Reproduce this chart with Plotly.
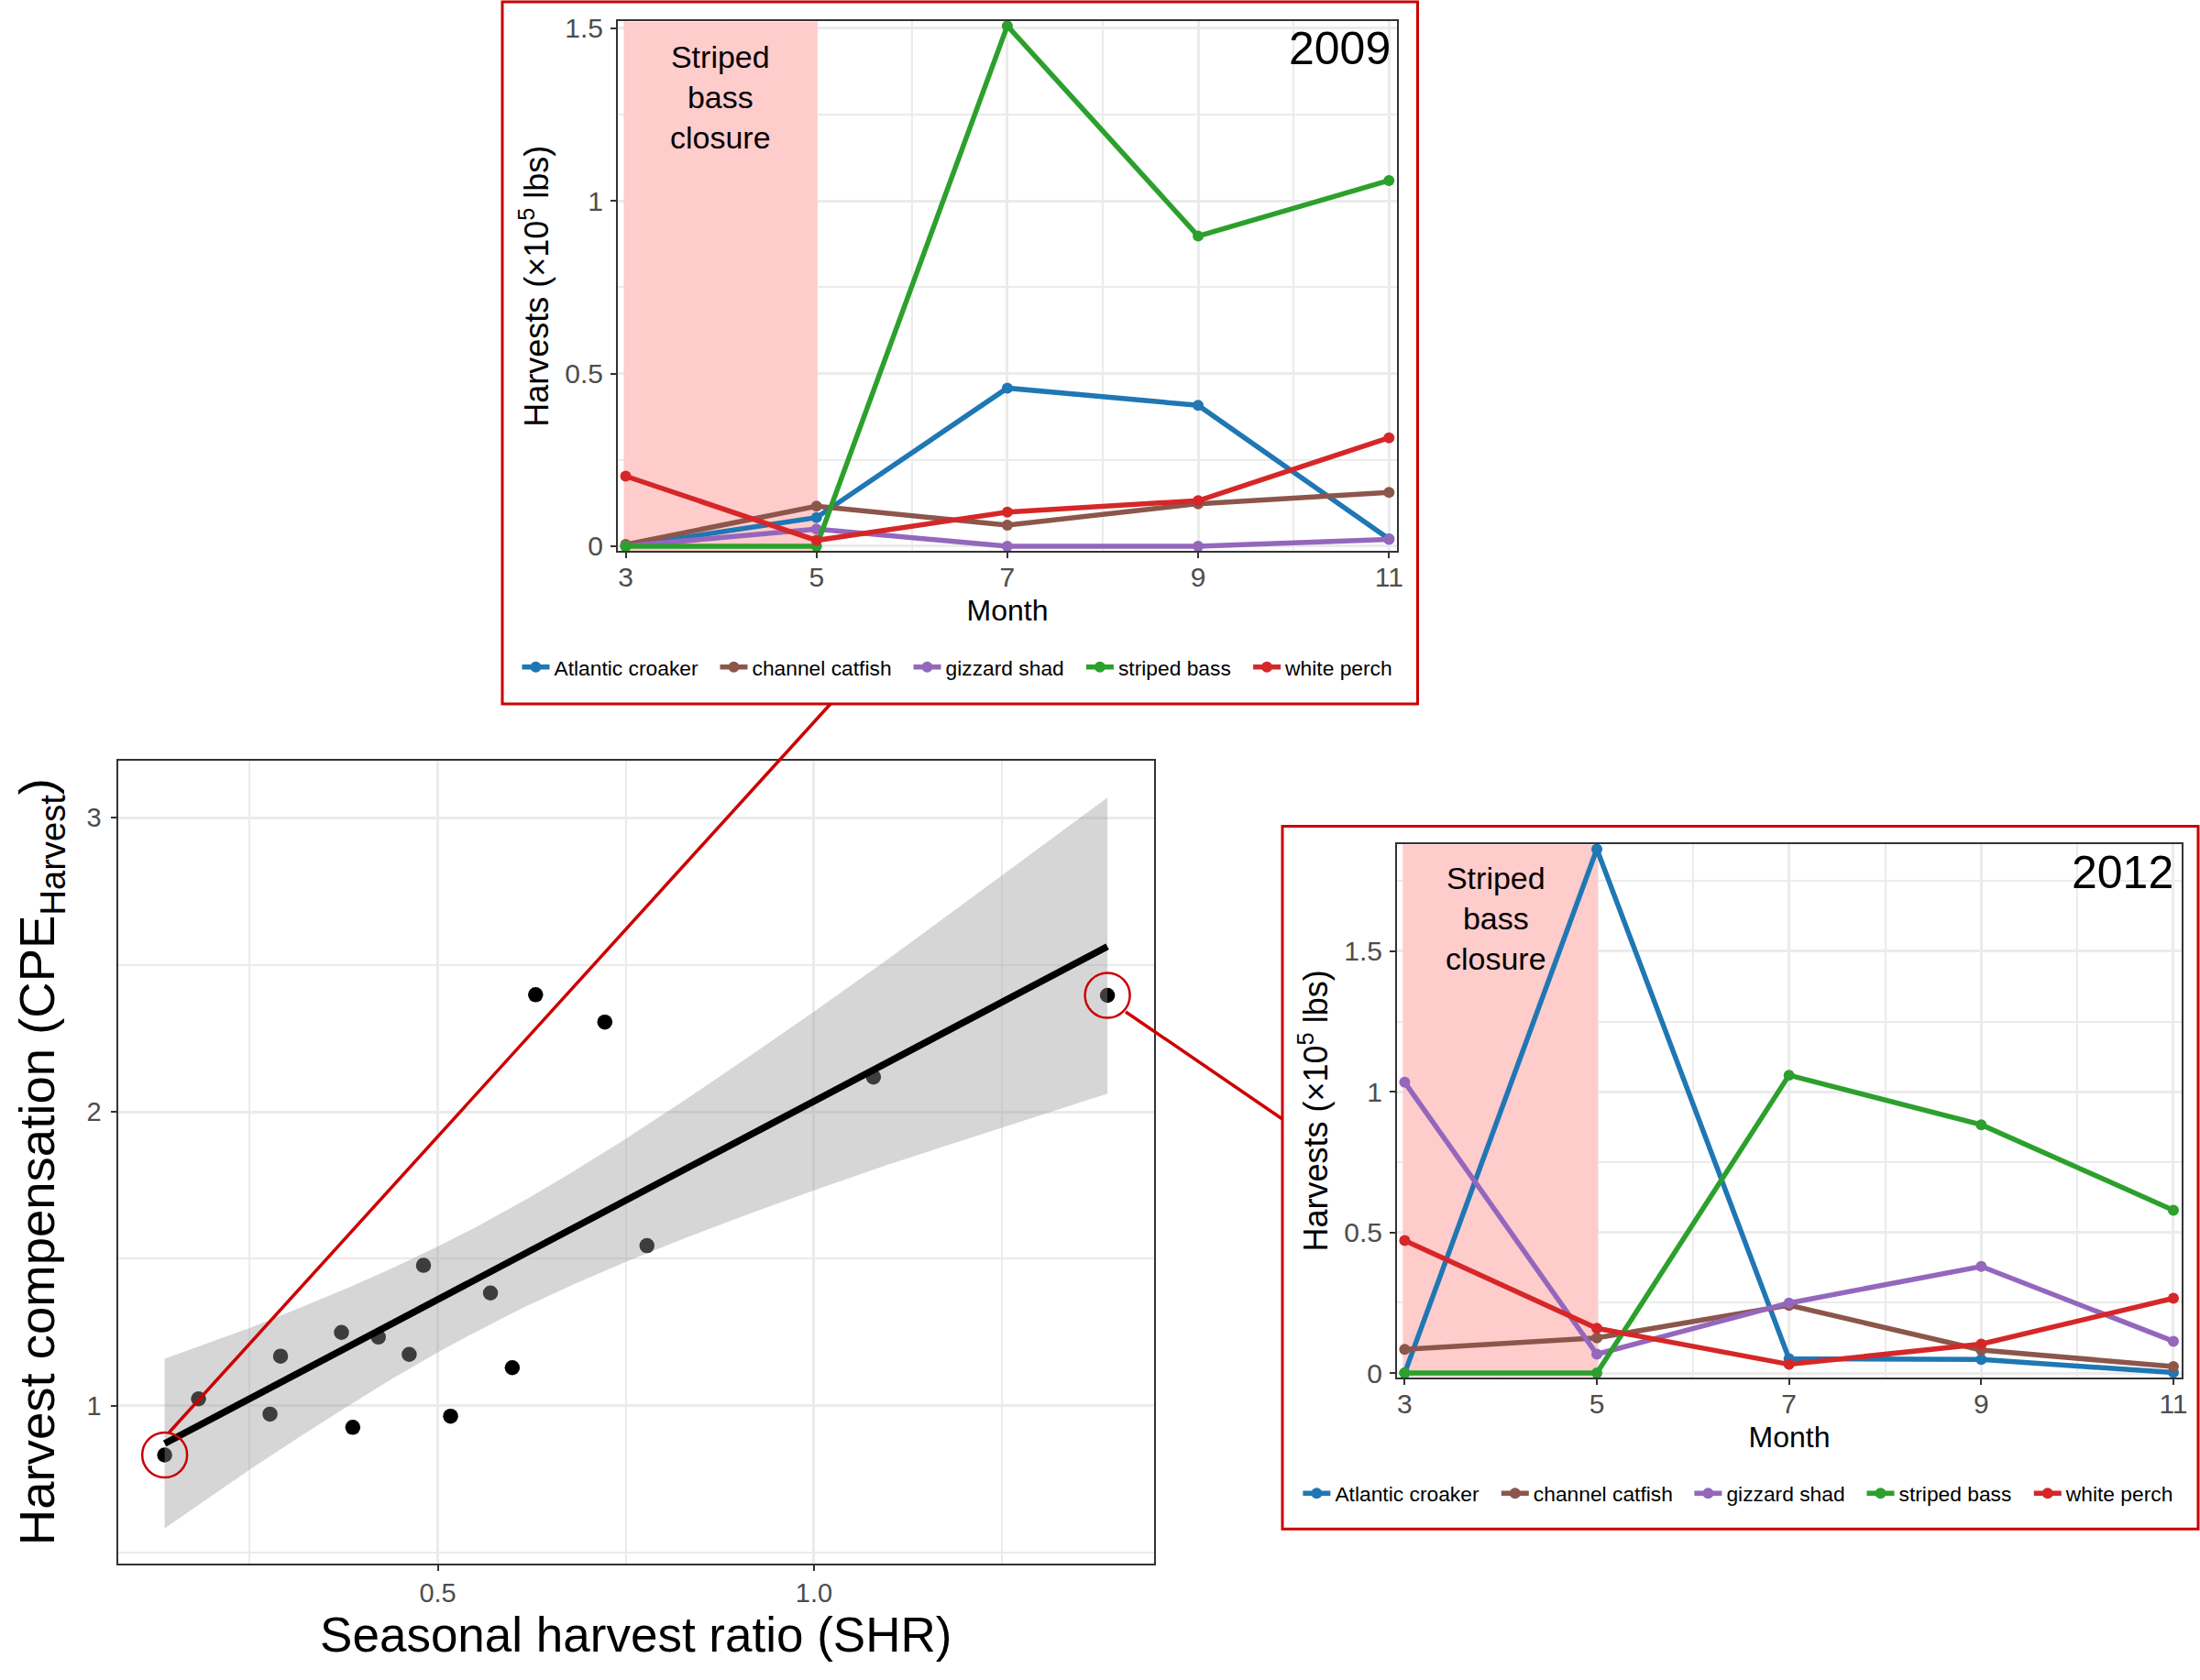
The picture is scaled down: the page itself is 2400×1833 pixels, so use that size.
import plotly.graph_objects as go

# ---------- data ----------
shr = [0.137, 0.182, 0.277, 0.291, 0.372, 0.387, 0.421, 0.462, 0.481, 0.517, 0.570, 0.599, 0.630, 0.722, 0.778, 1.079, 1.390]
cpe = [0.833, 1.024, 0.972, 1.169, 1.250, 0.927, 1.234, 1.175, 1.478, 0.965, 1.384, 1.130, 2.398, 2.305, 1.545, 2.118, 2.396]
fit_x = [0.137, 1.390]
fit_y = [0.872, 2.562]
band_x = [0.137, 0.200, 0.250, 0.320, 0.381, 0.440, 0.500, 0.550, 0.614, 0.680, 0.750, 0.832, 0.920, 1.000, 1.100, 1.250, 1.390]
band_upper = [1.160, 1.219, 1.265, 1.337, 1.402, 1.469, 1.542, 1.607, 1.697, 1.797, 1.908, 2.046, 2.199, 2.341, 2.522, 2.804, 3.068]
band_lower = [0.584, 0.695, 0.783, 0.901, 1.000, 1.093, 1.182, 1.251, 1.335, 1.413, 1.490, 1.574, 1.659, 1.733, 1.822, 1.945, 2.062]
highlight_x = [0.137, 1.390]
highlight_y = [0.833, 2.396]

months = [3, 5, 7, 9, 11]
species = ["Atlantic croaker", "channel catfish", "gizzard shad", "striped bass", "white perch"]
colors = ["#1f77b4", "#8c564b", "#9467bd", "#2ca02c", "#d62728"]
harvest_2009 = [
    [0.000, 0.083, 0.458, 0.408, 0.021],
    [0.005, 0.116, 0.061, 0.123, 0.156],
    [0.000, 0.050, 0.000, 0.000, 0.020],
    [0.000, 0.000, 1.507, 0.898, 1.059],
    [0.203, 0.017, 0.099, 0.132, 0.314],
]
harvest_2012 = [
    [0.000, 1.863, 0.051, 0.048, 0.002],
    [0.084, 0.125, 0.241, 0.082, 0.023],
    [1.034, 0.067, 0.249, 0.379, 0.113],
    [0.000, 0.000, 1.059, 0.883, 0.579],
    [0.471, 0.159, 0.031, 0.103, 0.266],
]
closure_months = [2.98, 5.01]
main_xticks = [0.5, 1.0]
main_xlabels = ["0.5", "1.0"]
main_xminor = [0.25, 0.75, 1.25]
main_yticks = [1, 2, 3]
main_yminor = [0.5, 1.5, 2.5]
inset_xticks = [3, 5, 7, 9, 11]
inset_xminor = [4, 6, 8, 10]
inset_yticks = [0, 0.5, 1, 1.5]
inset_ylabels = ["0", "0.5", "1", "1.5"]
inset_yminor_2009 = [0.25, 0.75, 1.25]
inset_yminor_2012 = [0.25, 0.75, 1.25, 1.75]

# ---------- page geometry ----------
W, H = 2400, 1833
FONT = "Liberation Sans"
RED = "#cc0000"
GRID = "#ebebeb"
def px(x): return x / W
def py(y): return 1 - y / H

RANGE_2009 = [-0.0133, 1.5196]
RANGE_2012 = [-0.0147, 1.880]
LEGEND_TEXT_X = {"2": [609, 825, 1036, 1224.4, 1406.6], "3": [1460.9, 1677.3, 1887.9, 2076, 2258.3]}
LEGEND_Y = {"2": 728, "3": 1629.5}

fig = go.Figure()

# main panel
fig.add_trace(go.Scatter(x=shr, y=cpe, mode="markers", marker=dict(color="black", size=16.5),
                         showlegend=False, xaxis="x", yaxis="y"))
fig.add_trace(go.Scatter(x=band_x + band_x[::-1], y=band_upper + band_lower[::-1], mode="lines",
                         line=dict(width=0), fill="toself", fillcolor="rgba(153,153,153,0.4)",
                         showlegend=False, xaxis="x", yaxis="y"))
fig.add_trace(go.Scatter(x=fit_x, y=fit_y, mode="lines", line=dict(color="black", width=7.5),
                         showlegend=False, xaxis="x", yaxis="y"))

legends = {}
n = 0
for values, ax, rng in ((harvest_2009, "2", RANGE_2009), (harvest_2012, "3", RANGE_2012)):
    # closure band, behind the lines but over the grid
    fig.add_trace(go.Scatter(x=[closure_months[0], closure_months[1], closure_months[1], closure_months[0]],
                             y=[rng[0], rng[0], rng[1], rng[1]], mode="lines", line=dict(width=0),
                             fill="toself", fillcolor="#ffcccc", showlegend=False,
                             xaxis="x" + ax, yaxis="y" + ax, hoverinfo="skip"))
    for i, (name, color, ys) in enumerate(zip(species, colors, values)):
        n += 1
        key = "legend" if n == 1 else f"legend{n}"
        legends[key] = dict(orientation="h", x=px(LEGEND_TEXT_X[ax][i] - 44.5), y=py(LEGEND_Y[ax]),
                            xanchor="left", yanchor="middle",
                            font=dict(family=FONT, size=22.8, color="black"), bgcolor="rgba(0,0,0,0)")
        fig.add_trace(go.Scatter(x=months, y=ys, mode="lines+markers", name=name,
                                 line=dict(color=color, width=5.5),
                                 marker=dict(color=color, size=12),
                                 legend=key, xaxis="x" + ax, yaxis="y" + ax, cliponaxis=False))

def axis(domain, rng, anchor, ticks, labels, minor, title, size, tfont, standoff, lab_off):
    return dict(domain=domain, range=rng, anchor=anchor, tickmode="array", tickvals=ticks, ticktext=labels,
                showgrid=True, gridcolor=GRID, gridwidth=3, zeroline=False,
                minor=dict(tickmode="array", tickvals=minor, showgrid=True, gridcolor=GRID, gridwidth=1.5, ticks=""),
                showline=True, mirror=True, linecolor="#333333", linewidth=2,
                ticks="outside", ticklen=6, tickwidth=2, tickcolor="#333333",
                ticklabelstandoff=lab_off, automargin=False,
                tickfont=dict(family=FONT, size=tfont, color="#4d4d4d"),
                title=dict(text=title, font=dict(family=FONT, size=size, color="black"), standoff=standoff))

Y_TITLE = "Harvests (×10<sup>5</sup> lbs)"
layout = dict(
    width=W, height=H, margin=dict(l=0, r=0, t=0, b=0, autoexpand=False),
    paper_bgcolor="white", plot_bgcolor="white", font=dict(family=FONT),
    xaxis=axis([px(128.5), px(1259)], [0.0747, 1.452], "y", main_xticks, main_xlabels, main_xminor,
               "Seasonal harvest ratio (SHR)", 53, 29, 11, 0),
    yaxis=axis([py(1705.6), py(829.6)], [0.465, 3.195], "x", main_yticks, [str(v) for v in main_yticks], main_yminor,
               "Harvest compensation (CPE<sub>Harvest</sub>)", 54.5, 29, 17, 4),
    xaxis2=axis([px(674), px(1524)], [2.918, 11.084], "y2", inset_xticks, [str(v) for v in inset_xticks], inset_xminor,
                "Month", 32, 30, 10, -5),
    yaxis2=axis([py(601), py(23.4)], RANGE_2009, "x2", inset_yticks, inset_ylabels, inset_yminor_2009,
                Y_TITLE, 36, 30, 7, 2),
    xaxis3=axis([px(1524), px(2380)], [2.92, 11.086], "y3", inset_xticks, [str(v) for v in inset_xticks], inset_xminor,
                "Month", 32, 30, 10, -5),
    yaxis3=axis([py(1502.6), py(921.2)], RANGE_2012, "x3", inset_yticks, inset_ylabels, inset_yminor_2012,
                Y_TITLE, 36, 30, 7, 2),
    **legends,
)
fig.update_layout(**layout)

# panel frames and connectors
for x0, y0, x1, y1 in ((548, 2, 1546.5, 768), (1399, 901.6, 2398, 1668.3)):
    fig.add_shape(type="rect", xref="paper", yref="paper", x0=px(x0), x1=px(x1), y0=py(y0), y1=py(y1),
                  line=dict(color=RED, width=3), fillcolor="rgba(0,0,0,0)", layer="above")
for x0, y0, x1, y1 in ((184.4, 1563, 906, 768), (1228, 1104, 1399, 1221)):
    fig.add_shape(type="line", xref="paper", yref="paper", x0=px(x0), x1=px(x1), y0=py(y0), y1=py(y1),
                  line=dict(color=RED, width=3.5), layer="above")
for cx, cy in zip(highlight_x, highlight_y):
    fig.add_shape(type="circle", xref="x", yref="y", xsizemode="pixel", ysizemode="pixel",
                  xanchor=cx, yanchor=cy, x0=-24.5, x1=24.5, y0=-24.5, y1=24.5,
                  line=dict(color=RED, width=2.5), fillcolor="rgba(0,0,0,0)", layer="above")

# annotations
closure = "Striped<br>bass<br>closure"
fig.add_annotation(text=closure, xref="paper", yref="paper", x=px(786), y=py(106), showarrow=False,
                   font=dict(family=FONT, size=34, color="black"), xanchor="center", yanchor="middle")
fig.add_annotation(text=closure, xref="paper", yref="paper", x=px(1631.5), y=py(1002), showarrow=False,
                   font=dict(family=FONT, size=34, color="black"), xanchor="center", yanchor="middle")
fig.add_annotation(text="2009", xref="paper", yref="paper", x=px(1519), y=py(53), showarrow=False,
                   font=dict(family=FONT, size=50, color="black"), xanchor="right", yanchor="middle")
fig.add_annotation(text="2012", xref="paper", yref="paper", x=px(2373), y=py(951.5), showarrow=False,
                   font=dict(family=FONT, size=50, color="black"), xanchor="right", yanchor="middle")

fig.write_html("out.html", config=dict(displayModeBar=False), post_script="document.body.style.margin='0';")
